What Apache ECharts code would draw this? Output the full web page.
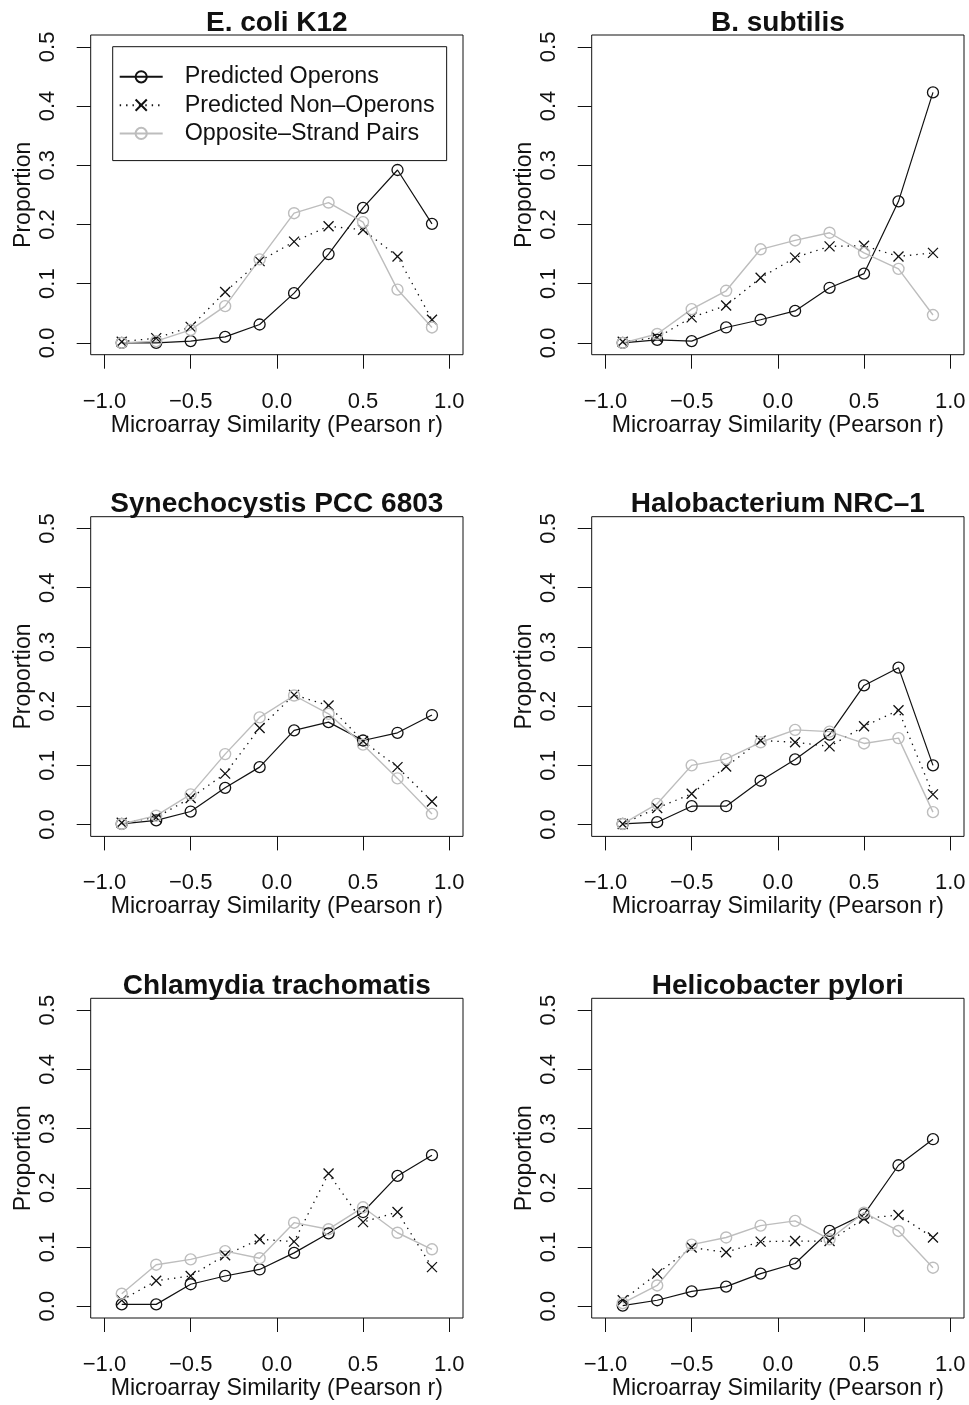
<!DOCTYPE html>
<html><head><meta charset="utf-8">
<script src="https://cdn.jsdelivr.net/npm/echarts@6/dist/echarts.min.js"></script>
<style>html,body{margin:0;padding:0;background:#fff}#c{width:969px;height:1405px}</style>
</head><body><div id="c"></div>
<script>
// ---- data ----
const panelTitles = ['E. coli K12', 'B. subtilis', 'Synechocystis PCC 6803', 'Halobacterium NRC\u20131', 'Chlamydia trachomatis', 'Helicobacter pylori'];
const seriesNames = ['Predicted Operons', 'Predicted Non\u2013Operons', 'Opposite\u2013Strand Pairs'];
const xValues = [-0.9, -0.7, -0.5, -0.3, -0.1, 0.1, 0.3, 0.5, 0.7, 0.9];
const xTicks = [-1, -0.5, 0, 0.5, 1];
const yTicks = [0, 0.1, 0.2, 0.3, 0.4, 0.5];
const xTitle = 'Microarray Similarity (Pearson r)';
const yTitle = 'Proportion';

const ecoliOperons    = [0.000, 0.000, 0.003, 0.010, 0.031, 0.084, 0.150, 0.228, 0.292, 0.201];
const ecoliNonOperons = [0.002, 0.008, 0.027, 0.086, 0.138, 0.171, 0.197, 0.191, 0.146, 0.039];
const ecoliOpposite   = [0.000, 0.003, 0.022, 0.062, 0.141, 0.219, 0.237, 0.204, 0.090, 0.026];

const bsubOperons     = [0.000, 0.005, 0.003, 0.026, 0.039, 0.054, 0.093, 0.117, 0.239, 0.423];
const bsubNonOperons  = [0.002, 0.009, 0.043, 0.063, 0.110, 0.144, 0.163, 0.164, 0.146, 0.152];
const bsubOpposite    = [0.000, 0.015, 0.057, 0.088, 0.158, 0.173, 0.186, 0.152, 0.125, 0.047];

const synOperons      = [0.001, 0.007, 0.022, 0.062, 0.097, 0.159, 0.173, 0.142, 0.155, 0.185];
const synNonOperons   = [0.003, 0.012, 0.045, 0.086, 0.163, 0.219, 0.201, 0.141, 0.097, 0.039];
const synOpposite     = [0.001, 0.015, 0.051, 0.119, 0.181, 0.218, 0.187, 0.135, 0.078, 0.018];

const haloOperons     = [0.001, 0.004, 0.031, 0.031, 0.074, 0.110, 0.152, 0.235, 0.265, 0.100];
const haloNonOperons  = [0.001, 0.028, 0.052, 0.098, 0.142, 0.139, 0.132, 0.166, 0.193, 0.051];
const haloOpposite    = [0.001, 0.035, 0.100, 0.111, 0.139, 0.160, 0.157, 0.137, 0.146, 0.021];

const chlamOperons    = [0.003, 0.003, 0.037, 0.051, 0.062, 0.090, 0.123, 0.159, 0.220, 0.255];
const chlamNonOperons = [0.010, 0.043, 0.051, 0.086, 0.113, 0.109, 0.224, 0.142, 0.159, 0.066];
const chlamOpposite   = [0.021, 0.070, 0.079, 0.093, 0.081, 0.141, 0.130, 0.167, 0.124, 0.096];

const heliOperons     = [0.001, 0.010, 0.025, 0.033, 0.055, 0.072, 0.127, 0.155, 0.238, 0.282];
const heliNonOperons  = [0.010, 0.055, 0.099, 0.091, 0.109, 0.110, 0.110, 0.148, 0.154, 0.116];
const heliOpposite    = [0.005, 0.035, 0.104, 0.116, 0.136, 0.144, 0.113, 0.158, 0.127, 0.065];

const panelData = [
  [ecoliOperons, ecoliNonOperons, ecoliOpposite],
  [bsubOperons, bsubNonOperons, bsubOpposite],
  [synOperons, synNonOperons, synOpposite],
  [haloOperons, haloNonOperons, haloOpposite],
  [chlamOperons, chlamNonOperons, chlamOpposite],
  [heliOperons, heliNonOperons, heliOpposite]
];

// ---- layout & style ----
const FONT = '"Liberation Sans", Arial, Helvetica, sans-serif';
const colLeft = [90.7, 591.7];
const rowTop = [35, 516.7, 998.3];
const GW = 372.3, GH = 319.7;
const INK = '#111';
const GRAY = '#bdbdbd';
const crossPath = 'path://M0,0L10,10M10,0L0,10';

const fmt = v => (v < 0 ? '\u2212' : '') + Math.abs(v).toFixed(1);

const grids = [], xAxes = [], yAxes = [], titles = [], series = [];
panelTitles.forEach((t, p) => {
  const col = p % 2, row = Math.floor(p / 2);
  const L = colLeft[col], T = rowTop[row];
  grids.push({ left: L, top: T, width: GW, height: GH, show: true, borderColor: INK, borderWidth: 1, backgroundColor: 'transparent', containLabel: false });
  titles.push({ text: t, left: L + GW / 2, top: T - 26, textAlign: 'center', padding: 0,
    textStyle: { fontFamily: FONT, fontWeight: 'bold', fontSize: 28, color: INK } });
  xAxes.push({ type: 'value', gridIndex: p, min: -1.08, max: 1.08, position: 'bottom',
    axisLine: { show: false, onZero: false }, splitLine: { show: false },
    axisTick: { show: true, length: 14, customValues: xTicks, lineStyle: { color: INK, width: 1 } },
    axisLabel: { customValues: xTicks, formatter: fmt, margin: 36, fontFamily: FONT, fontSize: 22, color: INK },
    name: xTitle, nameLocation: 'middle', nameGap: 59,
    nameTextStyle: { fontFamily: FONT, fontSize: 23.2, color: INK } });
  yAxes.push({ type: 'value', gridIndex: p, min: -0.02, max: 0.52, position: 'left',
    axisLine: { show: false, onZero: false }, splitLine: { show: false },
    axisTick: { show: true, length: 14, customValues: yTicks, lineStyle: { color: INK, width: 1 } },
    axisLabel: { customValues: yTicks, formatter: fmt, rotate: 90, margin: 32, fontFamily: FONT, fontSize: 22, color: INK },
    name: yTitle, nameLocation: 'middle', nameGap: 56, nameRotate: 90,
    nameTextStyle: { fontFamily: FONT, fontSize: 23, color: INK } });
  const [op, nonop, opp] = panelData[p];
  const pts = arr => xValues.map((x, i) => [x, arr[i]]);
  series.push({ name: seriesNames[0], type: 'line', xAxisIndex: p, yAxisIndex: p, data: pts(op),
    symbol: 'circle', symbolSize: 11, showAllSymbol: true,
    lineStyle: { color: INK, width: 1.2 },
    itemStyle: { color: 'none', borderColor: INK, borderWidth: 1.3 } });
  series.push({ name: seriesNames[1], type: 'line', xAxisIndex: p, yAxisIndex: p, data: pts(nonop),
    symbol: crossPath, symbolSize: 10, showAllSymbol: true,
    lineStyle: { color: INK, width: 1.3, type: [1.4, 5] },
    itemStyle: { color: 'none', borderColor: INK, borderWidth: 1.3 } });
  series.push({ name: seriesNames[2], type: 'line', xAxisIndex: p, yAxisIndex: p, data: pts(opp),
    symbol: 'circle', symbolSize: 11, showAllSymbol: true,
    lineStyle: { color: GRAY, width: 1.4 },
    itemStyle: { color: 'none', borderColor: GRAY, borderWidth: 1.4 } });
});

const chart = echarts.init(document.getElementById('c'), null, { renderer: 'canvas' });
chart.setOption({
  animation: false,
  backgroundColor: '#fff',
  title: titles,
  grid: grids,
  xAxis: xAxes,
  yAxis: yAxes,
  legend: {
    data: seriesNames, orient: 'vertical', left: 112.7, top: 46.7,
    borderColor: INK, borderWidth: 1, padding: [16, 12, 13, 6],
    itemWidth: 43, itemHeight: 14, itemGap: 0, selectedMode: false,
    textStyle: { fontFamily: FONT, fontSize: 23.3, color: INK, lineHeight: 28.3, padding: [0, 0, 0, 17] }
  },
  series: series
});
</script>
</body></html>
